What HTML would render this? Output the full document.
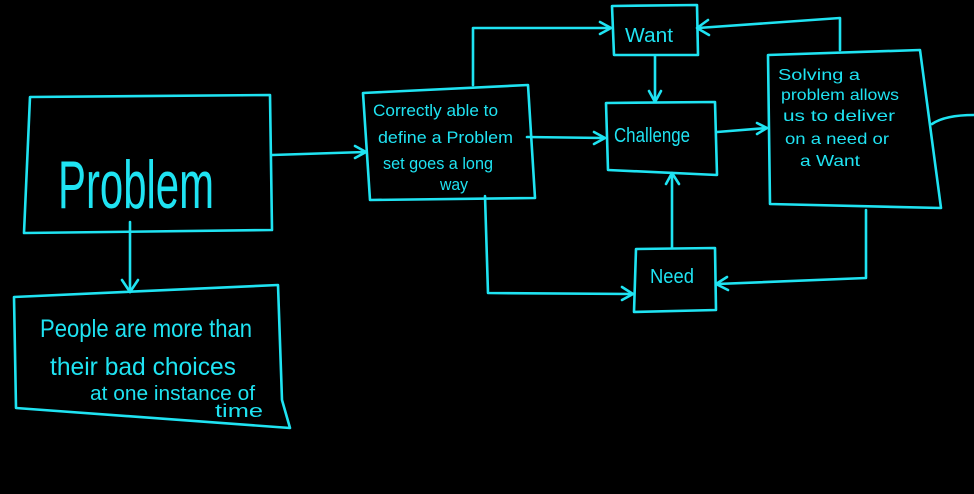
<!DOCTYPE html>
<html><head><meta charset="utf-8"><style>
html,body{margin:0;padding:0;background:#000;}
svg{display:block}
text{font-family:"Liberation Sans",sans-serif;fill:#1fe3f2;}
</style></head><body>
<svg width="974" height="494" viewBox="0 0 974 494" xmlns="http://www.w3.org/2000/svg">
<g fill="none" stroke="#1fe3f2" stroke-width="2.6" stroke-linecap="round" stroke-linejoin="round">
<!-- Problem box -->
<path d="M30,97 L270,95 L272,230 L24,233 Z"/>
<!-- arrow down -->
<path d="M130,222 L130,292"/><path d="M122,280 L130,292 L138,280"/>
<!-- People box -->
<path d="M14,297 L278,285 L282,400 L290,428 L16,408 Z"/>
<!-- arrow to box3 -->
<path d="M272,155 L365,152"/><path d="M355,146 L366,152 L355,158"/>
<!-- box3 -->
<path d="M363,93 L528,85 L535,198 L370,200 Z"/>
<!-- box3 -> Want -->
<path d="M473,85 L473,28 L610,28"/><path d="M600,22 L611,28 L600,34"/>
<!-- Want box -->
<path d="M612,6 L697,5 L698,55 L614,55 Z"/>
<!-- Want->Challenge -->
<path d="M655,56 L655,101"/><path d="M649,91 L655,102 L661,91"/>
<!-- Challenge box -->
<path d="M606,103 L715,102 L717,175 L608,170 Z"/>
<!-- box3->Challenge -->
<path d="M527,137 L604,138"/><path d="M594,132 L605,138 L594,144"/>
<!-- Need box -->
<path d="M636,249 L715,248 L716,310 L634,312 Z"/>
<!-- Need->Challenge -->
<path d="M672,247 L672,173"/><path d="M666,184 L672,173 L679,184"/>
<!-- box3 -> Need -->
<path d="M485,196 L488,293 L633,294"/><path d="M622,287 L633,294 L622,300"/>
<!-- Challenge -> Solving -->
<path d="M717,132 L767,128"/><path d="M757,123 L767,128 L757,134"/>
<!-- Solving box -->
<path d="M768,55 L920,50 L941,208 L770,204 Z"/>
<!-- Solving -> Want -->
<path d="M840,50 L840,18 L698,28"/><path d="M708,20 L697,28 L709,35"/>
<!-- Solving -> Need -->
<path d="M866,210 L866,278 L717,284"/><path d="M727,277 L716,284 L728,290"/>
<!-- off right -->
<path d="M932,124 Q945,115 974,115"/>
</g>
<text x="58" y="208" font-size="68" textLength="156" lengthAdjust="spacingAndGlyphs">Problem</text>
<text x="40" y="337" font-size="25" textLength="212" lengthAdjust="spacingAndGlyphs">People are more than</text>
<text x="50" y="375" font-size="25" textLength="186" lengthAdjust="spacingAndGlyphs">their bad choices</text>
<text x="90" y="400" font-size="20" textLength="165" lengthAdjust="spacingAndGlyphs">at one instance of</text>
<text x="215" y="417" font-size="18" textLength="48" lengthAdjust="spacingAndGlyphs">time</text>
<text x="373" y="116" font-size="17" textLength="125" lengthAdjust="spacingAndGlyphs">Correctly able to</text>
<text x="378" y="143" font-size="17" textLength="135" lengthAdjust="spacingAndGlyphs">define a Problem</text>
<text x="383" y="169" font-size="17" textLength="110" lengthAdjust="spacingAndGlyphs">set goes a long</text>
<text x="440" y="190" font-size="17" textLength="28" lengthAdjust="spacingAndGlyphs">way</text>
<text x="625" y="42" font-size="20" textLength="48" lengthAdjust="spacingAndGlyphs">Want</text>
<text x="614" y="142" font-size="20" textLength="76" lengthAdjust="spacingAndGlyphs">Challenge</text>
<text x="650" y="283" font-size="20" textLength="44" lengthAdjust="spacingAndGlyphs">Need</text>
<text x="778" y="80" font-size="16" textLength="82" lengthAdjust="spacingAndGlyphs">Solving a</text>
<text x="781" y="100" font-size="16" textLength="118" lengthAdjust="spacingAndGlyphs">problem allows</text>
<text x="783" y="121" font-size="16" textLength="112" lengthAdjust="spacingAndGlyphs">us to deliver</text>
<text x="785" y="144" font-size="16" textLength="104" lengthAdjust="spacingAndGlyphs">on a need or</text>
<text x="800" y="166" font-size="16" textLength="60" lengthAdjust="spacingAndGlyphs">a Want</text>
</svg>
</body></html>
